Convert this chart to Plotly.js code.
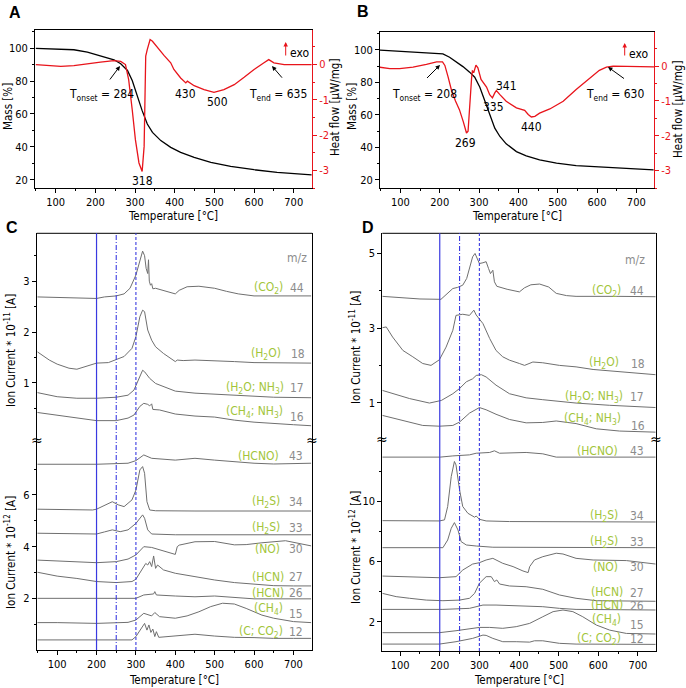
<!DOCTYPE html>
<html><head><meta charset="utf-8">
<script src="https://cdn.plot.ly/plotly-3.0.1.min.js"></script>
<style>html,body{margin:0;padding:0;background:#fff}#plot{width:686px;height:688px}</style>
</head><body><div id="plot"></div>
<script>
// ---------- Panel A ----------
const A_mass_T = [50,100,146,180,213,247,264,281,293,306,318,331,344,365,390,415,449,491,541,600,658,745];
const A_mass   = [99.8,99.6,99,97.6,95.5,92.9,90.5,86.4,80.3,70.2,62,53.9,48.8,43.8,39.7,36.6,33.6,30.5,28.1,26.1,24.5,23.0];
const A_heat_T = [50,79,113,146,180,213,247,264,276,284,293,301,310,318,323,327,331,338,344,357,373,390,398,415,428,432,449,474,499,524,550,575,600,625,637,650,676,745];
const A_heat   = [0,-0.03,-0.05,-0.03,0.03,0.07,0.11,0.09,0,-0.43,-1.28,-2.13,-2.79,-3.03,-2.32,0.24,0.43,0.71,0.66,0.47,0.26,0.05,-0.14,-0.38,-0.52,-0.47,-0.60,-0.71,-0.79,-0.71,-0.57,-0.36,-0.14,0.05,0.14,0.05,0,0];
// ---------- Panel B ----------
const B_mass_T = [47,100,149,183,208,225,242,259,276,289,302,314,327,340,353,369,395,420,454,497,547,615,683,744];
const B_mass   = [99.8,99.0,98.6,98.2,97.5,95.5,92.8,89.7,86.3,83.2,77,69.2,60,51.8,46.7,42.2,37.4,34.8,32.3,30.3,28.8,27.8,26.8,26.2];
const B_heat_T = [47,73,98,132,166,192,207,213,221,230,240,250,260,268,272,276,281,283,287,292,297,305,319,327,334,340,344,353,369,395,416,425,433,442,454,480,514,547,581,606,624,641,747];
const B_heat   = [-0.03,-0.07,-0.07,-0.03,0.05,0.12,0.12,0.02,-0.3,-0.7,-1.0,-1.25,-1.6,-1.92,-1.87,-1.06,-0.34,-0.14,-0.17,0.03,-0.05,-0.38,-0.6,-0.82,-0.91,-0.77,-0.70,-0.82,-1.01,-1.2,-1.27,-1.39,-1.46,-1.44,-1.35,-1.23,-1.01,-0.67,-0.34,-0.12,-0.03,0,-0.02];
// ---------- Panel C, upper (10^-11 A) ----------
const C44_T = [50,100,150,200,220,250,270,285,300,310,317,322,326,330,332,334,337,340,343,350,370,390,400,410,430,460,500,530,560,600,650,700,745];
const C44   = [2.69,2.68,2.66,2.66,2.69,2.71,2.75,2.86,3.12,3.41,3.59,3.50,3.25,3.15,3.42,3.00,2.92,2.95,2.85,2.86,2.82,2.77,2.75,2.82,2.89,2.90,2.86,2.80,2.75,2.71,2.71,2.71,2.71];
const C18_T = [50,80,100,130,150,170,200,230,250,270,290,300,310,317,322,330,340,350,370,390,400,405,420,450,500,550,600,650,700,745];
const C18   = [1.61,1.45,1.37,1.29,1.27,1.32,1.39,1.40,1.46,1.52,1.68,1.91,2.30,2.43,2.40,2.04,1.84,1.71,1.58,1.48,1.42,1.45,1.44,1.45,1.44,1.42,1.40,1.40,1.39,1.39];
const C17_T = [50,100,150,200,250,280,295,305,317,322,335,350,380,400,450,500,550,600,650,745];
const C17   = [0.81,0.73,0.70,0.70,0.72,0.76,0.86,1.03,1.25,1.22,1.09,0.99,0.90,0.84,0.80,0.78,0.76,0.73,0.72,0.71];
const C16_T = [50,100,150,200,250,280,295,310,320,330,335,340,343,360,400,450,500,550,600,650,700,745];
const C16   = [0.42,0.37,0.31,0.26,0.26,0.31,0.37,0.54,0.60,0.58,0.55,0.59,0.48,0.47,0.39,0.35,0.33,0.27,0.23,0.20,0.18,0.16];
// ---------- Panel C, lower (10^-12 A) ----------
const C43_T = [50,200,280,300,320,340,400,450,500,550,600,650,745];
const C43   = [7.19,7.19,7.23,7.33,7.55,7.42,7.35,7.42,7.35,7.29,7.23,7.20,7.23];
const C34_T = [50,190,200,220,240,255,270,290,300,310,317,322,328,335,350,450,745];
const C34   = [5.45,5.42,5.45,5.61,5.74,5.62,5.55,5.81,6.19,6.97,7.10,6.84,5.74,5.42,5.39,5.38,5.38];
const C33_T = [50,200,220,240,260,280,300,310,317,322,330,340,400,745];
const C33   = [4.52,4.49,4.57,4.65,4.58,4.65,4.90,5.10,5.23,5.10,4.65,4.49,4.46,4.46];
const C30_T = [50,100,150,200,250,280,300,320,340,360,380,400,405,410,450,500,550,580,620,680,745];
const C30   = [3.48,3.45,3.42,3.38,3.42,3.52,3.68,4.00,3.97,3.87,3.77,3.70,4.00,4.06,4.19,4.20,4.07,4.08,4.15,4.23,4.03];
const C27_T = [50,100,150,200,250,290,300,315,325,330,335,340,345,350,355,370,400,450,500,550,600,650,700,745];
const C27   = [3.01,2.86,2.77,2.65,2.61,2.65,2.74,3.10,3.35,3.29,3.42,3.23,3.64,3.16,3.29,3.10,2.97,2.84,2.71,2.61,2.54,2.49,2.48,2.48];
const C26_T = [50,300,320,345,348,352,400,450,500,550,600,650,745];
const C26   = [2.0,2.0,2.13,2.17,2.26,2.13,2.09,2.06,2.09,2.04,1.98,1.98,1.98];
const C15_T = [50,100,200,280,300,320,340,348,360,400,430,460,490,520,550,580,620,650,700,745];
const C15   = [1.06,1.06,1.03,1.07,1.16,1.42,1.32,1.45,1.29,1.23,1.32,1.48,1.68,1.81,1.78,1.61,1.35,1.23,1.10,1.06];
const C12_T = [50,200,290,300,315,322,328,333,338,343,348,352,358,380,400,450,500,550,600,650,700,745];
const C12   = [0.39,0.39,0.39,0.52,0.90,1.03,0.77,0.97,0.68,0.81,0.52,0.71,0.49,0.52,0.55,0.61,0.54,0.49,0.48,0.45,0.45,0.45];
// ---------- Panel D, upper (10^-11 A) ----------
const D44_T = [55,100,150,203,215,233,245,258,268,275,283,289,296,300,309,317,323,328,334,338,344,370,401,414,430,452,475,494,520,544,650,745];
const D44   = [3.85,3.81,3.78,3.77,3.88,4.06,4.09,4.15,4.33,4.64,4.91,5.00,4.82,4.73,4.75,4.78,4.60,4.46,4.55,4.24,4.12,4.04,3.97,4.08,4.16,4.18,4.10,3.93,3.87,3.85,3.85,3.84];
const D18_T = [55,65,81,107,132,157,178,199,216,233,241,258,275,286,292,309,326,342,359,376,401,414,435,460,502,544,587,629,671,745];
const D18   = [3.01,3.03,2.76,2.40,2.23,2.05,2.00,2.15,2.49,2.94,3.34,3.37,3.34,3.48,3.35,3.12,2.72,2.40,2.23,2.14,2.05,2.00,2.09,2.07,2.00,1.96,1.89,1.85,1.81,1.75];
const D17_T = [55,81,124,174,204,233,250,267,283,292,305,317,342,376,418,460,544,629,745];
const D17   = [1.33,1.24,1.11,0.99,1.06,1.24,1.38,1.56,1.64,1.73,1.75,1.69,1.47,1.24,1.13,1.08,0.99,0.93,0.87];
const D16_T = [55,90,124,157,199,233,250,275,300,317,342,376,418,460,494,544,595,654,745];
const D16   = [0.66,0.57,0.48,0.39,0.37,0.39,0.48,0.72,0.87,0.81,0.69,0.55,0.46,0.47,0.51,0.44,0.30,0.24,0.21];
// ---------- Panel D, lower (10^-12 A) ----------
const D43_T = [55,201,233,275,292,326,338,351,418,460,494,544,745];
const D43   = [12.96,12.96,13.04,13.11,13.22,13.27,13.38,13.22,13.27,13.18,12.96,12.96,12.96];
const D34_T = [55,199,212,220,229,237,241,250,258,271,288,292,300,317,376,745];
const D34   = [8.73,8.71,8.78,9.67,11.67,12.67,12.44,10.78,9.67,9.22,8.96,9.04,8.82,8.71,8.67,8.64];
const D33_T = [55,208,220,229,237,246,254,267,292,334,745];
const D33   = [6.93,6.93,7.44,8.22,8.60,8.11,7.33,7.11,7.04,6.96,6.93];
const D30_T = [55,124,199,241,258,283,300,317,334,359,385,410,423,427,439,460,494,511,544,587,629,671,745];
const D30   = [5.04,5.00,4.93,5.00,5.44,5.84,5.93,6.11,6.22,5.89,5.67,5.38,5.27,5.67,6.11,6.33,6.56,6.51,6.22,6.11,6.11,6.07,5.84];
const D27_T = [55,90,124,166,208,250,275,288,300,317,330,338,344,351,376,418,460,502,544,595,745];
const D27   = [3.89,3.67,3.56,3.44,3.40,3.44,3.56,3.89,4.56,5.00,5.00,4.67,4.78,4.51,4.38,4.33,4.16,3.78,3.56,3.40,3.36];
const D26_T = [55,208,275,309,342,376,418,460,502,544,745];
const D26   = [2.82,2.82,2.89,3.11,3.11,3.07,3.07,3.00,2.89,2.82,2.78];
const D15_T = [55,199,241,275,300,326,359,393,427,460,486,511,536,561,595,629,671,745];
const D15   = [1.27,1.27,1.40,1.53,1.62,1.62,1.56,1.67,1.89,2.33,2.67,2.78,2.67,2.33,1.78,1.44,1.22,1.18];
const D12_T = [55,199,241,283,309,317,334,359,393,427,439,460,502,544,745];
const D12   = [0.51,0.51,0.67,0.89,1.11,1.09,0.89,0.67,0.67,0.64,0.73,0.73,0.56,0.51,0.49];

// temperature step lines
const stepTemps = [200, 250, 300];
const stepDash  = ['solid', '5px,2px,1px,2px', '3px,2px'];

// labels  [species, m/z]
const C_up_labels = [['(CO<sub>2</sub>)','44'],['(H<sub>2</sub>O)','18'],['(H<sub>2</sub>O; NH<sub>3</sub>)','17'],['(CH<sub>4</sub>; NH<sub>3</sub>)','16']];
const C_lo_labels = [['(HCNO)','43'],['(H<sub>2</sub>S)','34'],['(H<sub>2</sub>S)','33'],['(NO)','30'],['(HCN)','27'],['(HCN)','26'],['(CH<sub>4</sub>)','15'],['(C; CO<sub>2</sub>)','12']];

const W = 686, H = 688;
const px = v => v / W, py = v => 1 - v / H;
const FF = 'Liberation Sans Narrow, Arial Narrow, DejaVu Sans Condensed, Liberation Sans, Arial, sans-serif';
const GRAY = '#6f6f6f', RED = '#e8141b', GREEN = '#a2c53a', NUMG = '#8c8c8c', BLUE = '#3a3ae0';

const traces = [];
function line(x, y, xa, ya, color, w) {
  traces.push({x, y, xaxis: xa, yaxis: ya, type: 'scatter', mode: 'lines', line: {color, width: w || 1}, hoverinfo: 'skip', showlegend: false});
}
line(A_mass_T, A_mass, 'x', 'y', '#000', 1.3);
line(A_heat_T, A_heat, 'x', 'y2', RED, 1.3);
line(B_mass_T, B_mass, 'x2', 'y3', '#000', 1.3);
line(B_heat_T, B_heat, 'x2', 'y4', RED, 1.3);
[[C44_T,C44],[C18_T,C18],[C17_T,C17],[C16_T,C16]].forEach(d => line(d[0], d[1], 'x3', 'y6', GRAY));
[[C43_T,C43],[C34_T,C34],[C33_T,C33],[C30_T,C30],[C27_T,C27],[C26_T,C26],[C15_T,C15],[C12_T,C12]].forEach(d => line(d[0], d[1], 'x3', 'y5', GRAY));
[[D44_T,D44],[D18_T,D18],[D17_T,D17],[D16_T,D16]].forEach(d => line(d[0], d[1], 'x4', 'y8', GRAY));
[[D43_T,D43],[D34_T,D34],[D33_T,D33],[D30_T,D30],[D27_T,D27],[D26_T,D26],[D15_T,D15],[D12_T,D12]].forEach(d => line(d[0], d[1], 'x4', 'y7', GRAY));

const tf = {family: FF, size: 11, color: '#000'};
function xax(dom, anchor, range, mirror) {
  return {domain: dom, anchor, range, tick0: 0, dtick: 100, ticks: 'outside', ticklen: 4, tickwidth: 1,
    tickcolor: '#000', showline: true, linecolor: '#000', linewidth: 1, mirror: mirror, showgrid: false, zeroline: false,
    tickfont: tf, minor: {dtick: 50, tick0: 0, ticks: 'outside', ticklen: 2, tickcolor: '#000'}};
}
function yax(dom, anchor, range, vals, minorVals, extra) {
  const a = {domain: dom, anchor, range, tickmode: 'array', tickvals: vals, ticktext: vals.map(String), ticks: 'outside', ticklen: 4,
    tickwidth: 1, tickcolor: '#000', showline: true, linecolor: '#000', linewidth: 1, showgrid: false, zeroline: false,
    tickfont: tf, minor: {tickmode: 'array', tickvals: minorVals, ticks: 'outside', ticklen: 2, tickcolor: '#000'}};
  return Object.assign(a, extra || {});
}
const yA = [py(188), py(30)], yB = [py(188), py(32)];
const redExtra = (ov) => ({overlaying: ov, side: 'right', linecolor: RED, tickcolor: RED,
  tickfont: {family: FF, size: 11, color: RED}, minor: {tickmode: 'array', tickvals: [-3.5,-2.5,-1.5,-0.5,0.5], ticks: 'outside', ticklen: 2, tickcolor: RED}});
const layout = {
  width: W, height: H, margin: {l: 0, r: 0, t: 0, b: 0}, paper_bgcolor: '#fff', plot_bgcolor: 'rgba(0,0,0,0)',
  font: {family: FF, size: 11, color: '#000'}, showlegend: false,
  xaxis: xax([px(35), px(312)], 'y', [48, 746], true),
  yaxis: yax(yA, 'x', [15, 111], [20,40,60,80,100], [30,50,70,90,110]),
  yaxis2: yax(yA, 'x', [-3.5, 0.98], [-3,-2,-1,0], [], redExtra('y')),
  xaxis2: xax([px(380), px(654)], 'y3', [48, 745], true),
  yaxis3: yax(yB, 'x2', [15, 111], [20,40,60,80,100], [30,50,70,90,110]),
  yaxis4: yax(yB, 'x2', [-3.5, 0.98], [-3,-2,-1,0], [], redExtra('y3')),
  xaxis3: xax([px(36.7), px(312.3)], 'y5', [48, 748], false),
  yaxis5: yax([py(650), py(441)], 'x3', [0, 8.09], [2,4,6], [1,3,5,7], {mirror: true}),
  yaxis6: yax([py(441), py(233.3)], 'x3', [-0.14, 3.94], [1,2,3], [0.5,1.5,2.5,3.5], {mirror: true}),
  xaxis4: xax([px(382.3), px(655.7)], 'y7', [55, 745], false),
  yaxis7: yax([py(651), py(440)], 'x4', [0.05, 14.1], [2,6,10], [4,8,12], {mirror: true}),
  yaxis8: yax([py(440), py(233.3)], 'x4', [0, 5.54], [1,3,5], [2,4], {mirror: true}),
  shapes: [], annotations: []
};
// frames (top edge of C and D)
layout.shapes.push({type: 'line', xref: 'paper', yref: 'paper', x0: px(36.7), x1: px(312.3), y0: py(233.3), y1: py(233.3), line: {color: '#000', width: 1}});
layout.shapes.push({type: 'line', xref: 'paper', yref: 'paper', x0: px(382.3), x1: px(655.7), y0: py(233.3), y1: py(233.3), line: {color: '#000', width: 1}});
// temperature step lines
[['x3', py(650), py(233.3)], ['x4', py(651), py(233.3)]].forEach(p => {
  stepTemps.forEach((t, i) => layout.shapes.push({type: 'line', xref: p[0], yref: 'paper', x0: t, x1: t, y0: p[1], y1: p[2],
    line: {color: BLUE, width: i === 0 ? 1.2 : 1.1, dash: stepDash[i]}}));
});

const ann = layout.annotations;
function txt(t, x, y, o) {
  ann.push(Object.assign({text: t, x: px(x), y: py(y), xref: 'paper', yref: 'paper', showarrow: false,
    font: {family: FF, size: 12, color: '#000'}, xanchor: 'center', yanchor: 'middle'}, o || {}));
}
function arrow(x, y, ax, ay, color) {
  ann.push({text: ' ', x: px(x), y: py(y), xref: 'paper', yref: 'paper', showarrow: true, ax, ay, axref: 'pixel', ayref: 'pixel',
    arrowhead: 2, arrowsize: 0.9, arrowwidth: 1, arrowcolor: color || '#000', font: {size: 2}});
}
// panel letters
const bold = {family: 'Liberation Sans, Arial, sans-serif', size: 16, color: '#000', weight: 'bold'};
txt('<b>A</b>', 15, 12, {font: bold});
txt('<b>B</b>', 363, 11, {font: bold});
txt('<b>C</b>', 12, 227, {font: bold});
txt('<b>D</b>', 368, 227, {font: bold});
// axis titles
const at = {family: FF, size: 11.5, color: '#000'};
txt('Temperature [°C]', 173, 216, {font: at});
txt('Temperature [°C]', 517, 216, {font: at});
txt('Temperature [°C]', 174, 680, {font: at});
txt('Temperature [°C]', 519, 680, {font: at});
txt('Mass [%]', 8, 107, {font: at, textangle: -90});
txt('Mass [%]', 352, 107, {font: at, textangle: -90});
txt('Heat flow [µW/mg]', 335, 108, {font: at, textangle: -90});
txt('Heat flow [µW/mg]', 678, 110, {font: at, textangle: -90});
txt('Ion Current * 10<sup>-11</sup> [A]', 10, 351, {font: at, textangle: -90});
txt('Ion Current * 10<sup>-12</sup> [A]', 10, 553, {font: at, textangle: -90});
txt('Ion Current * 10<sup>-11</sup> [A]', 355, 348, {font: at, textangle: -90});
txt('Ion Current * 10<sup>-12</sup> [A]', 355, 548, {font: at, textangle: -90});
// A annotations
txt('T<sub>onset</sub> = 284', 101, 95);
txt('318', 142, 181);
txt('430', 185, 94);
txt('500', 217, 102);
txt('T<sub>end</sub> = 635', 278, 95);
txt('exo', 288, 53, {xanchor: 'left'});
arrow(120, 66, -12, 16);
arrow(272, 66, 12, 14);
arrow(285.7, 42, 0, 16, RED);
// B annotations
txt('T<sub>onset</sub> = 208', 424, 95);
txt('269', 466, 143);
txt('335', 493, 107);
txt('341', 506, 86);
txt('440', 531, 127);
txt('T<sub>end</sub> = 630', 615, 95);
txt('exo', 627, 54, {xanchor: 'left'});
arrow(440, 65, -15, 15);
arrow(608, 67, 18, 13);
arrow(624.7, 43, 0, 15, RED);
// break marks
[[36.7, 441], [312.3, 441], [382.3, 440], [655.7, 440]].forEach(p => txt('≈', p[0], p[1] - 1, {font: {family: 'DejaVu Sans, sans-serif', size: 14, color: '#000'}}));
// m/z labels
const lf = {family: FF, size: 12, color: GREEN};
const nf = {family: FF, size: 12, color: NUMG};
txt('m/z', 297, 258, {font: nf});
txt('m/z', 635, 260, {font: nf});
function lab(l, gx, gy, nx, ny) {
  txt(l[0], gx, gy, {font: lf, xanchor: 'right'});
  txt(l[1], nx, ny, {font: nf, xanchor: 'left'});
}
const Cup = [[285,288,288,288],[283,354,289,354],[286,388,288,388],[285,412,288,417]];
const Clo = [[281,456,287,456],[282,502,287,502],[282,528,287,528],[282,549,287,549],[286,577,287,577],[286,593,287,593],[285,609,287,614],[285,632,287,632]];
const Dup = [[623,291,628,291],[621,363,629,364],[625,397,628,397],[623,419,629,426]];
const Dlo = [[620,451,628,451],[620,516,628,516],[620,542,628,542],[620,567,628,567],[625,592,628,593],[625,605,628,606],[623,620,628,625],[623,639,628,639]];
C_up_labels.forEach((l, i) => lab(l, ...Cup[i]));
C_lo_labels.forEach((l, i) => lab(l, ...Clo[i]));
C_up_labels.forEach((l, i) => lab(l, ...Dup[i]));
C_lo_labels.forEach((l, i) => lab(l, ...Dlo[i]));

Plotly.newPlot('plot', traces, layout, {staticPlot: true, displayModeBar: false});
</script></body></html>
